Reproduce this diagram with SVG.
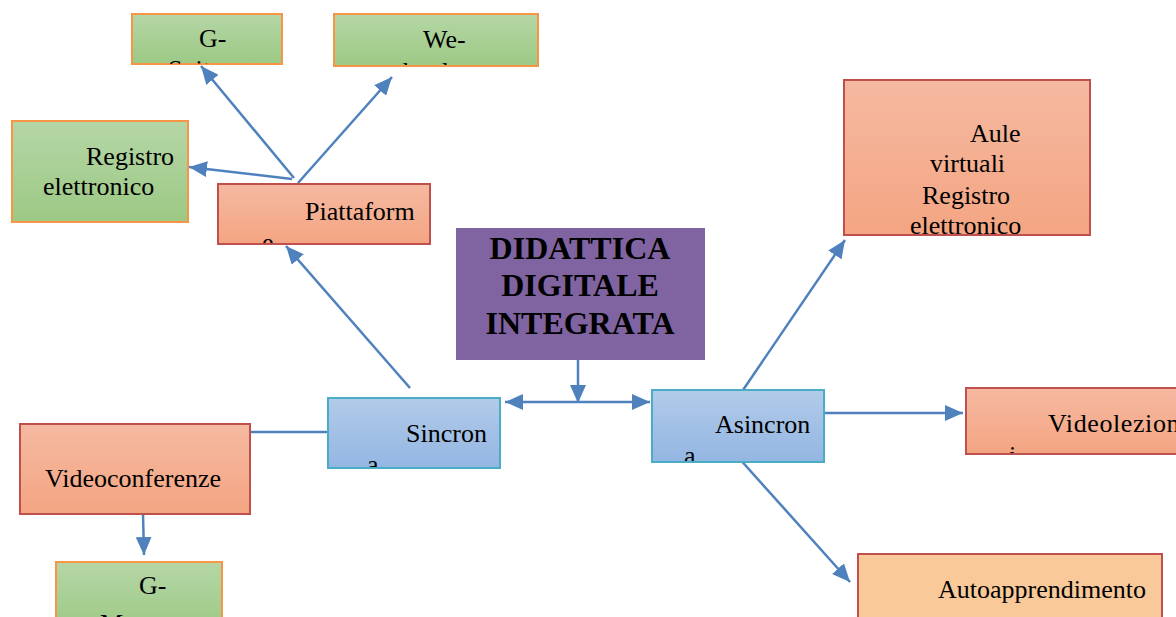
<svg xmlns="http://www.w3.org/2000/svg" width="1176" height="617" viewBox="0 0 1176 617">
<style>
.t{font-family:"Liberation Serif","Times New Roman",serif;font-size:26px;fill:#000}
.b{font-family:"Liberation Serif","Times New Roman",serif;font-size:32px;font-weight:bold;fill:#000;text-anchor:middle}
.green{fill:url(#gGreen);stroke:#f79646;stroke-width:2}
.salmon{fill:url(#gSalmon);stroke:#c0504d;stroke-width:2}
.blue{fill:url(#gBlue);stroke:#4bacc6;stroke-width:2}
.orange{fill:#f9c99a;stroke:#c0504d;stroke-width:2}
.conn{stroke:#4f81bd;stroke-width:2.5;fill:none}
</style>
<defs>
<linearGradient id="gGreen" x1="0" y1="0" x2="0" y2="1"><stop offset="0" stop-color="#b5d6a6"/><stop offset="1" stop-color="#9cc984"/></linearGradient>
<linearGradient id="gSalmon" x1="0" y1="0" x2="0" y2="1"><stop offset="0" stop-color="#f5b9a1"/><stop offset="1" stop-color="#f4a582"/></linearGradient>
<linearGradient id="gBlue" x1="0" y1="0" x2="0" y2="1"><stop offset="0" stop-color="#b2cbe9"/><stop offset="1" stop-color="#93b6e2"/></linearGradient>
<marker id="arr" markerUnits="userSpaceOnUse" markerWidth="20" markerHeight="16" refX="18" refY="8" orient="auto"><path d="M0,0 L18,8 L0,16 Z" fill="#4f81bd"/></marker>
<marker id="arrS" markerUnits="userSpaceOnUse" markerWidth="20" markerHeight="16" refX="0" refY="8" orient="auto"><path d="M18,0 L0,8 L18,16 Z" fill="#4f81bd"/></marker>
<clipPath id="cGS"><rect x="132" y="14" width="150" height="50"/></clipPath>
<clipPath id="cWE"><rect x="334" y="14" width="204" height="51"/></clipPath>
<clipPath id="cPI"><rect x="218" y="184" width="212" height="59"/></clipPath>
<clipPath id="cSI"><rect x="328" y="398" width="172" height="69"/></clipPath>
<clipPath id="cAS"><rect x="652" y="390" width="172" height="71"/></clipPath>
<clipPath id="cVL"><rect x="966" y="388" width="210" height="65"/></clipPath>
<clipPath id="cAU"><rect x="844" y="80" width="246" height="155"/></clipPath>
</defs>
<g id="connectors">
<line class="conn" x1="578" y1="360" x2="578" y2="403" marker-end="url(#arr)"/>
<line class="conn" x1="505" y1="402" x2="650" y2="402" marker-start="url(#arrS)" marker-end="url(#arr)"/>
<line class="conn" x1="410" y1="388" x2="286" y2="246" marker-end="url(#arr)"/>
<line class="conn" x1="294" y1="178" x2="201" y2="66" marker-end="url(#arr)"/>
<line class="conn" x1="298" y1="183" x2="392" y2="77" marker-end="url(#arr)"/>
<line class="conn" x1="292" y1="179" x2="189" y2="167" marker-end="url(#arr)"/>
<line class="conn" x1="328" y1="432" x2="250" y2="432"/>
<line class="conn" x1="143" y1="514" x2="144" y2="555" marker-end="url(#arr)"/>
<line class="conn" x1="741" y1="393" x2="845" y2="240" marker-end="url(#arr)"/>
<line class="conn" x1="824" y1="413" x2="963" y2="413" marker-end="url(#arr)"/>
<line class="conn" x1="738" y1="457" x2="850" y2="582" marker-end="url(#arr)"/>
</g>
<g id="gsuite">
<rect class="green" x="132" y="14" width="150" height="50"/>
<g clip-path="url(#cGS)"><text class="t" x="199" y="47">G-</text><text class="t" x="168" y="78">Suite</text></g>
</g>
<g id="weschool">
<rect class="green" x="334" y="14" width="204" height="52"/>
<g clip-path="url(#cWE)"><text class="t" x="423" y="48">We-</text><text class="t" x="381" y="80">school</text></g>
</g>
<g id="registro">
<rect class="green" x="12" y="121" width="176" height="101"/>
<text class="t" x="86" y="165">Registro</text>
<text class="t" x="43" y="195">elettronico</text>
</g>
<g id="piattaforme">
<rect class="salmon" x="218" y="184" width="212" height="60"/>
<g clip-path="url(#cPI)"><text class="t" x="305" y="220">Piattaform</text><text class="t" x="262" y="251">e</text></g>
</g>
<g id="ddi">
<rect x="456" y="228" width="249" height="132" fill="#8064a2"/>
<text class="b" x="580" y="259">DIDATTICA</text>
<text class="b" x="580" y="296">DIGITALE</text>
<text class="b" x="580" y="334">INTEGRATA</text>
</g>
<g id="sincrona">
<rect class="blue" x="328" y="398" width="172" height="70"/>
<g clip-path="url(#cSI)"><text class="t" x="406" y="442">Sincron</text><text class="t" x="367" y="473">a</text></g>
</g>
<g id="asincrona">
<rect class="blue" x="652" y="390" width="172" height="72"/>
<g clip-path="url(#cAS)"><text class="t" x="715" y="433">Asincron</text><text class="t" x="684" y="464">a</text></g>
</g>
<g id="videoconferenze">
<rect class="salmon" x="20" y="424" width="230" height="90"/>
<text class="t" x="45" y="487">Videoconferenze</text>
</g>
<g id="gmeet">
<rect class="green" x="56" y="562" width="166" height="70"/>
<text class="t" x="139" y="594">G-</text>
<text class="t" x="100" y="632">Meet</text>
</g>
<g id="aule">
<rect class="salmon" x="844" y="80" width="246" height="155"/>
<g clip-path="url(#cAU)">
<text class="t" x="970" y="142">Aule</text>
<text class="t" x="930" y="172">virtuali</text>
<text class="t" x="922" y="204">Registro</text>
<text class="t" x="910" y="234">elettronico</text>
</g>
</g>
<g id="videolezioni">
<rect class="salmon" x="966" y="388" width="220" height="66"/>
<g clip-path="url(#cVL)"><text class="t" x="1048" y="432" letter-spacing="0.6">Videolezion</text><text class="t" x="1009" y="464">i</text></g>
</g>
<g id="autoapprendimento">
<rect class="orange" x="858" y="554" width="304" height="80"/>
<text class="t" x="938" y="598">Autoapprendimento</text>
</g>
</svg>
